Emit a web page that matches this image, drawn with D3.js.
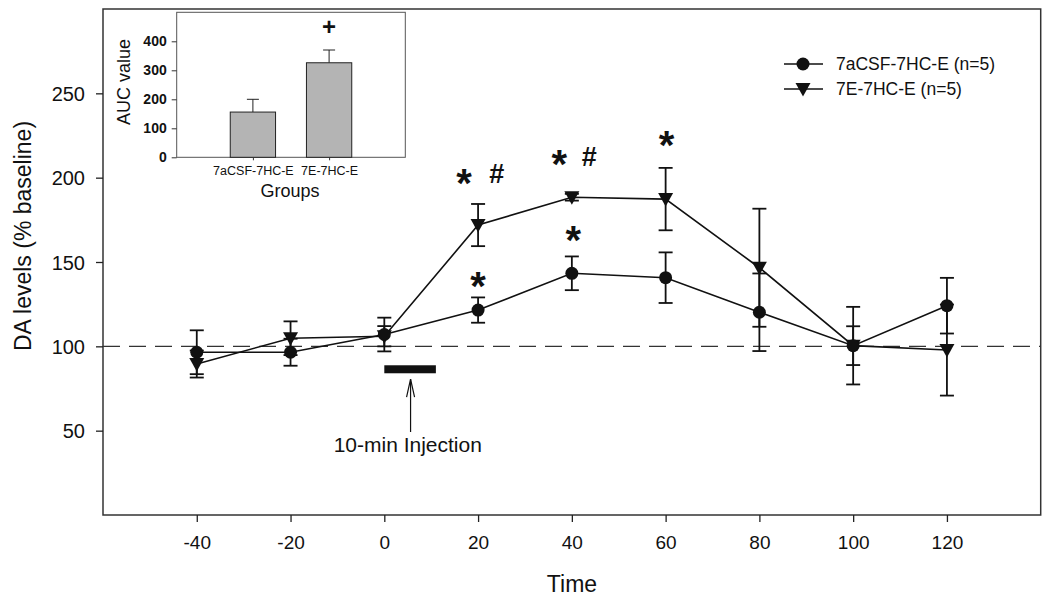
<!DOCTYPE html>
<html>
<head>
<meta charset="utf-8">
<script src="https://cdn.jsdelivr.net/npm/d3@7"></script>
<style>
  html, body { margin: 0; padding: 0; background: #fff; }
  svg { display: block; font-family: "Liberation Sans", Arial, sans-serif; }
</style>
</head>
<body>
<svg id="chart" width="1050" height="604"></svg>
<script>
// ---------------- DATA ----------------
const times = [-40, -20, 0, 20, 40, 60, 80, 100, 120];
const seriesNames = ["7aCSF-7HC-E (n=5)", "7E-7HC-E (n=5)"];
const aCSFValues = [96.5, 96.5, 107, 121.5, 143.3, 140.7, 120.2, 100.4, 124.1];
const aCSFErrors = [13, 8, 10, 7.5, 10, 15, 23, 23, 16.5];
const e7Values = [89.5, 104.8, 106, 171.9, 188.4, 187.3, 146.6, 100.4, 97.8];
const e7Errors = [8, 10, 6, 12.5, 2, 18.5, 35, 11.5, 27];
const xTicks = [-40, -20, 0, 20, 40, 60, 80, 100, 120];
const xTickLabels = ["-40", "-20", "0", "20", "40", "60", "80", "100", "120"];
const yTicks = [50, 100, 150, 200, 250];
const baseline = 100;
const injection = { start: 0, end: 11, value: 86.4, label: "10-min Injection", arrowTime: 5.6, arrowTop: 80.6, arrowBottom: 49.2, labelTime: 5, labelValue: 37.4 };
// significance marks: time, value (visual centre), glyph
const marks = [
  { t: 17.0, v: 200.4, s: "*" }, { t: 24.0, v: 202.8, s: "#" },
  { t: 37.3, v: 211.8, s: "*" }, { t: 43.7, v: 212.4, s: "#" },
  { t: 60.2, v: 222.9, s: "*" },
  { t: 20.0, v: 139.3, s: "*" }, { t: 40.3, v: 166.6, s: "*" }
];
// inset
const groups = ["7aCSF-7HC-E", "7E-7HC-E"];
const aucValues = [156, 326];
const aucErrors = [44, 44];
const aucTicks = [0, 100, 200, 300, 400];
const aucMark = { group: "7E-7HC-E", value: 452, s: "+" };

// ---------------- LAYOUT ----------------
const svg = d3.select("#chart");
const M = { left: 103, right: 1040.7, top: 9, bottom: 515 };
const x = d3.scaleLinear().domain([-60, 140]).range([M.left, M.right]);
const y = d3.scaleLinear().domain([0, 300]).range([M.bottom, M.top]);

// frame
svg.append("rect").attr("x", M.left).attr("y", M.top)
  .attr("width", M.right - M.left).attr("height", M.bottom - M.top)
  .attr("fill", "none").attr("stroke", "#333").attr("stroke-width", 1.5);

// axes
const xAxis = svg.append("g").attr("transform", `translate(0,${M.bottom})`)
  .call(d3.axisBottom(x).tickValues(xTicks).tickSize(7).tickPadding(14)
    .tickFormat((d, i) => xTickLabels[i]));
const yAxis = svg.append("g").attr("transform", `translate(${M.left},0)`)
  .call(d3.axisLeft(y).tickValues(yTicks).tickSize(7).tickPadding(11));
[xAxis, yAxis].forEach(g => {
  g.select(".domain").remove();
  g.selectAll(".tick line").attr("stroke", "#222").attr("stroke-width", 1.3);
  g.selectAll(".tick text").attr("fill", "#111").attr("font-family", "Liberation Sans, Arial, sans-serif");
});
xAxis.selectAll(".tick text").attr("font-size", 19);
yAxis.selectAll(".tick text").attr("font-size", 20).attr("dy", "0.36em");

// axis titles
svg.append("text").attr("x", 572).attr("y", 592).attr("text-anchor", "middle")
  .attr("font-size", 23).attr("fill", "#111").text("Time");
svg.append("text").attr("transform", "translate(31,236) rotate(-90)").attr("text-anchor", "middle")
  .attr("font-size", 23).attr("fill", "#111").text("DA levels (% baseline)");

// baseline dashed
svg.append("line").attr("x1", M.left).attr("x2", M.right)
  .attr("y1", y(baseline)).attr("y2", y(baseline))
  .attr("stroke", "#333").attr("stroke-width", 1.2).attr("stroke-dasharray", "17,9");

// injection bar & arrow
svg.append("rect").attr("x", x(injection.start)).attr("width", x(injection.end) - x(injection.start))
  .attr("y", y(injection.value) - 4).attr("height", 8).attr("fill", "#111");
const ax = x(injection.arrowTime), at = y(injection.arrowTop), ab = y(injection.arrowBottom);
svg.append("line").attr("x1", ax).attr("x2", ax).attr("y1", at).attr("y2", ab)
  .attr("stroke", "#111").attr("stroke-width", 1.2);
svg.append("path").attr("d", `M${ax - 4},${at + 18} L${ax},${at} L${ax + 4},${at + 18}`)
  .attr("fill", "none").attr("stroke", "#111").attr("stroke-width", 1.2);
svg.append("text").attr("x", x(injection.labelTime)).attr("y", y(injection.labelValue))
  .attr("text-anchor", "middle").attr("font-size", 21).attr("fill", "#111").text(injection.label);

// series
const series = [
  { name: seriesNames[0], vals: aCSFValues, errs: aCSFErrors, sym: "circle" },
  { name: seriesNames[1], vals: e7Values, errs: e7Errors, sym: "tri" }
];
const line = d3.line().x((d, i) => x(times[i])).y(d => y(d));
function drawSym(g, sym, cx, cy) {
  if (sym === "circle") {
    g.append("circle").attr("cx", cx).attr("cy", cy).attr("r", 6.5).attr("fill", "#111");
  } else {
    g.append("path").attr("d", `M${cx - 7.5},${cy - 6} L${cx + 7.5},${cy - 6} L${cx},${cy + 7.5} Z`).attr("fill", "#111");
  }
}
// error bars first
series.forEach(s => {
  const g = svg.append("g");
  s.vals.forEach((v, i) => {
    const cx = x(times[i]), yt = y(v + s.errs[i]), yb = y(v - s.errs[i]);
    g.append("line").attr("x1", cx).attr("x2", cx).attr("y1", yt).attr("y2", yb)
      .attr("stroke", "#111").attr("stroke-width", 1.8);
    [yt, yb].forEach(yy => g.append("line").attr("x1", cx - 7).attr("x2", cx + 7)
      .attr("y1", yy).attr("y2", yy).attr("stroke", "#111").attr("stroke-width", 1.8));
  });
});
series.forEach(s => {
  svg.append("path").datum(s.vals).attr("d", line).attr("fill", "none")
    .attr("stroke", "#111").attr("stroke-width", 1.6);
});
series.slice().reverse().forEach(s => {
  const g = svg.append("g");
  s.vals.forEach((v, i) => drawSym(g, s.sym, x(times[i]), y(v)));
});

// significance marks
marks.forEach(m => {
  const isStar = m.s === "*";
  svg.append("text").attr("x", x(m.t)).attr("y", y(m.v))
    .attr("text-anchor", "middle")
    .attr("font-size", isStar ? 40 : 27).attr("font-weight", "bold").attr("fill", "#111")
    .attr("dy", isStar ? "0.5em" : "0.36em").text(m.s);
});

// legend
const legend = svg.append("g");
series.forEach((s, i) => {
  const ly = 64 + i * 25;
  legend.append("line").attr("x1", 784).attr("x2", 823).attr("y1", ly).attr("y2", ly)
    .attr("stroke", "#111").attr("stroke-width", 1.6);
  drawSym(legend, s.sym, 803, ly);
  legend.append("text").attr("x", 836).attr("y", ly + 6).attr("font-size", 17.5)
    .attr("fill", "#111").text(s.name);
});

// ---------------- INSET ----------------
const I = { left: 176.7, right: 405.3, top: 12.3, bottom: 157.3 };
const ix = d3.scalePoint().domain(groups).range([I.left, I.right]).padding(1);
const iy = d3.scaleLinear().domain([0, 500]).range([I.bottom, I.top]);
const inset = svg.append("g");
inset.append("rect").attr("x", I.left).attr("y", I.top).attr("width", I.right - I.left)
  .attr("height", I.bottom - I.top).attr("fill", "#fff").attr("stroke", "#555").attr("stroke-width", 1);
const barW = 45.3;
groups.forEach((gname, i) => {
  const cx = ix(gname);
  inset.append("line").attr("x1", cx).attr("x2", cx).attr("y1", iy(aucValues[i]))
    .attr("y2", iy(aucValues[i] + aucErrors[i])).attr("stroke", "#222").attr("stroke-width", 1);
  inset.append("line").attr("x1", cx - 6).attr("x2", cx + 6).attr("y1", iy(aucValues[i] + aucErrors[i]))
    .attr("y2", iy(aucValues[i] + aucErrors[i])).attr("stroke", "#222").attr("stroke-width", 1);
  inset.append("rect").attr("x", cx - barW / 2).attr("width", barW)
    .attr("y", iy(aucValues[i])).attr("height", iy(0) - iy(aucValues[i]))
    .attr("fill", "#b4b4b4").attr("stroke", "#222").attr("stroke-width", 1);
});
const iyAxis = inset.append("g").attr("transform", `translate(${I.left},0)`)
  .call(d3.axisLeft(iy).tickValues(aucTicks).tickSize(5).tickPadding(5));
const ixAxis = inset.append("g").attr("transform", `translate(0,${I.bottom})`)
  .call(d3.axisBottom(ix).tickSize(3).tickPadding(6));
[iyAxis, ixAxis].forEach(g => {
  g.select(".domain").remove();
  g.selectAll(".tick line").attr("stroke", "#333");
  g.selectAll(".tick text").attr("fill", "#111").attr("font-family", "Liberation Sans, Arial, sans-serif");
});
iyAxis.selectAll(".tick text").attr("font-size", 14).attr("font-weight", "bold");
ixAxis.selectAll(".tick text").attr("font-size", 12.5);
inset.append("text").attr("x", 290).attr("y", 197).attr("text-anchor", "middle")
  .attr("font-size", 18).attr("fill", "#111").text("Groups");
inset.append("text").attr("transform", "translate(130,82) rotate(-90)").attr("text-anchor", "middle")
  .attr("font-size", 18).attr("fill", "#111").text("AUC value");
inset.append("text").attr("x", ix(aucMark.group)).attr("y", iy(aucMark.value)).attr("dy", "0.35em")
  .attr("text-anchor", "middle").attr("font-size", 24).attr("font-weight", "bold").attr("fill", "#111").text(aucMark.s);
</script>
</body>
</html>
